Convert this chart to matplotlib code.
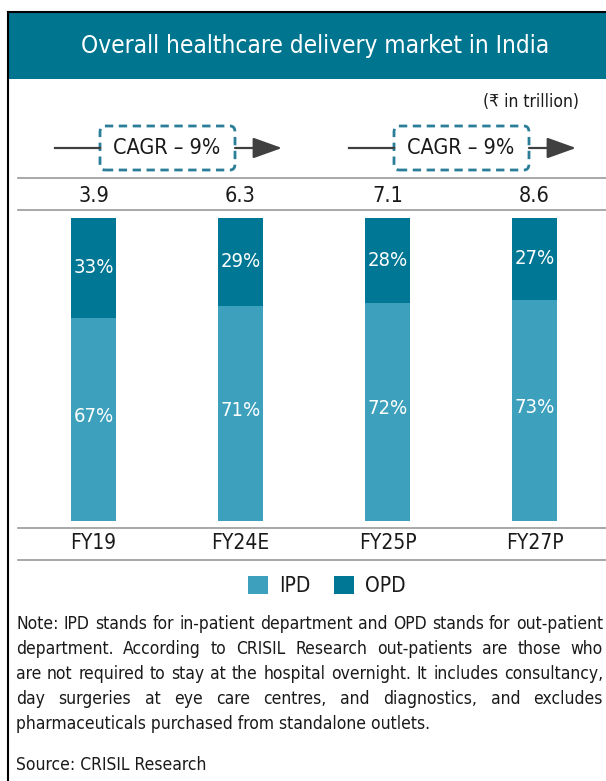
import matplotlib
matplotlib.use('agg')
import matplotlib.pyplot as plt
from matplotlib.patches import Rectangle, FancyBboxPatch, FancyArrowPatch
from matplotlib.lines import Line2D
from matplotlib import font_manager

# data
years = ["FY19", "FY24E", "FY25P", "FY27P"]
totals = ["3.9", "6.3", "7.1", "8.6"]
ipd = [67, 71, 72, 73]
opd = [33, 29, 28, 27]
cagr_labels = ["CAGR – 9%", "CAGR – 9%"]
title = "Overall healthcare delivery market in India"
unit = "(₹ in trillion)"
note_lines = [
    "Note: IPD stands for in-patient department and OPD stands for out-patient",
    "department. According to CRISIL Research out-patients are those who",
    "are not required to stay at the hospital overnight. It includes consultancy,",
    "day surgeries at eye care centres, and diagnostics, and excludes",
    "pharmaceuticals purchased from standalone outlets.",
]
source = "Source: CRISIL Research"

# look for a narrow / condensed face, else Roboto
narrow = "Roboto"
for f in font_manager.fontManager.ttflist:
    n = (f.name + " " + f.fname).lower()
    if ("narrow" in n or "condensed" in n) and f.weight in (400, "normal", "regular") and f.style == "normal":
        narrow = f.name
        plt.rcParams['font.stretch'] = f.stretch
        break
FAM = [narrow, "DejaVu Sans"]
plt.rcParams['font.family'] = FAM

IPD_C = "#3DA1BD"
OPD_C = "#007794"
BAND_C = "#00758F"
DARK = "#1a1a1a"

W, H = 606, 781
fig = plt.figure(figsize=(W / 100, H / 100), dpi=100)

def fx(x):
    return x / W

def fy(y):
    return 1 - y / H

# frame and title band
fig.add_artist(Rectangle((fx(8), fy(79)), fx(W) - fx(8), fy(12) - fy(79),
                         transform=fig.transFigure, color=BAND_C, lw=0))
fig.add_artist(Line2D([fx(8), fx(8)], [fy(12), fy(781)], transform=fig.transFigure, color="black", lw=1.5))
fig.add_artist(Line2D([fx(8), fx(W)], [fy(12), fy(12)], transform=fig.transFigure, color="black", lw=1.5))
fig.text(fx(315), fy(46), title, color="white", fontsize=17.5, ha="center", va="center")
fig.text(fx(579), fy(102), unit, color=DARK, fontsize=12.5, ha="right", va="center")

# CAGR arrows
for i, lab in enumerate(cagr_labels):
    x0 = 55 + i * 294
    fig.add_artist(Line2D([fx(x0), fx(x0 + 45)], [fy(148), fy(148)], transform=fig.transFigure,
                          color="#404040", lw=1.6))
    fig.add_artist(FancyBboxPatch((fx(x0 + 45), fy(170)), fx(135), fy(126) - fy(170),
                                  boxstyle="round,pad=0,rounding_size=0.008",
                                  transform=fig.transFigure, fc="none", ec="#2B7E98",
                                  lw=2.0, ls=(0, (3, 2))))
    fig.text(fx(x0 + 112), fy(148), lab, color=DARK, fontsize=15.5, ha="center", va="center")
    fig.add_artist(FancyArrowPatch((fx(x0 + 180), fy(148)), (fx(x0 + 227), fy(148)),
                                   transform=fig.transFigure,
                                   arrowstyle="-|>,head_length=1.2,head_width=0.43",
                                   mutation_scale=15, color="#404040", lw=1.6,
                                   shrinkA=0, shrinkB=0))

# horizontal rules
for y in [178, 210, 528, 560]:
    fig.add_artist(Line2D([fx(18), fx(W)], [fy(y), fy(y)], transform=fig.transFigure, color="#999999", lw=1.2))

# bars
ax = fig.add_axes([fx(20), fy(521), fx(588), fy(218) - fy(521)])
x = range(len(years))
ax.bar(x, ipd, width=0.31, color=IPD_C, label="IPD")
ax.bar(x, opd, width=0.31, bottom=ipd, color=OPD_C, label="OPD")
for i in x:
    ax.text(i, ipd[i] / 2 + 1, f"{ipd[i]}%", color="white", fontsize=14.5, ha="center", va="center")
    ax.text(i, ipd[i] + opd[i] / 2, f"{opd[i]}%", color="white", fontsize=14.5, ha="center", va="center")
ax.set_xlim(-0.5, 3.5)
ax.set_ylim(0, 100)
ax.axis("off")

for i in x:
    xc = 20 + 73.5 + i * 147
    fig.text(fx(xc), fy(196), totals[i], color=DARK, fontsize=15.5, ha="center", va="center")
    fig.text(fx(xc), fy(543), years[i], color=DARK, fontsize=15, ha="center", va="center")

leg = fig.legend(loc="center", bbox_to_anchor=(fx(327), fy(586)), ncol=2, frameon=False,
                 fontsize=15, handlelength=0.95, handleheight=0.95, columnspacing=1.1,
                 handletextpad=0.55, borderpad=0)
for t in leg.get_texts():
    t.set_color(DARK)

# justified note text
renderer = fig.canvas.get_renderer()
left, right = 16, 603
for k, line in enumerate(note_lines):
    y = fy(624 + k * 25)
    words = line.split(" ")
    if k == len(note_lines) - 1:
        fig.text(fx(left), y, line, color=DARK, fontsize=12.5, ha="left", va="center")
        continue
    objs = [fig.text(0, y, w, color=DARK, fontsize=12.5, ha="left", va="center") for w in words]
    widths = [o.get_window_extent(renderer).width for o in objs]
    gap = (right - left - sum(widths)) / (len(words) - 1)
    pos = left
    for o, w in zip(objs, widths):
        o.set_x(fx(pos))
        pos += w + gap

fig.text(fx(16), fy(765), source, color=DARK, fontsize=12.5, ha="left", va="center")

fig.savefig("out.png", dpi=100)
